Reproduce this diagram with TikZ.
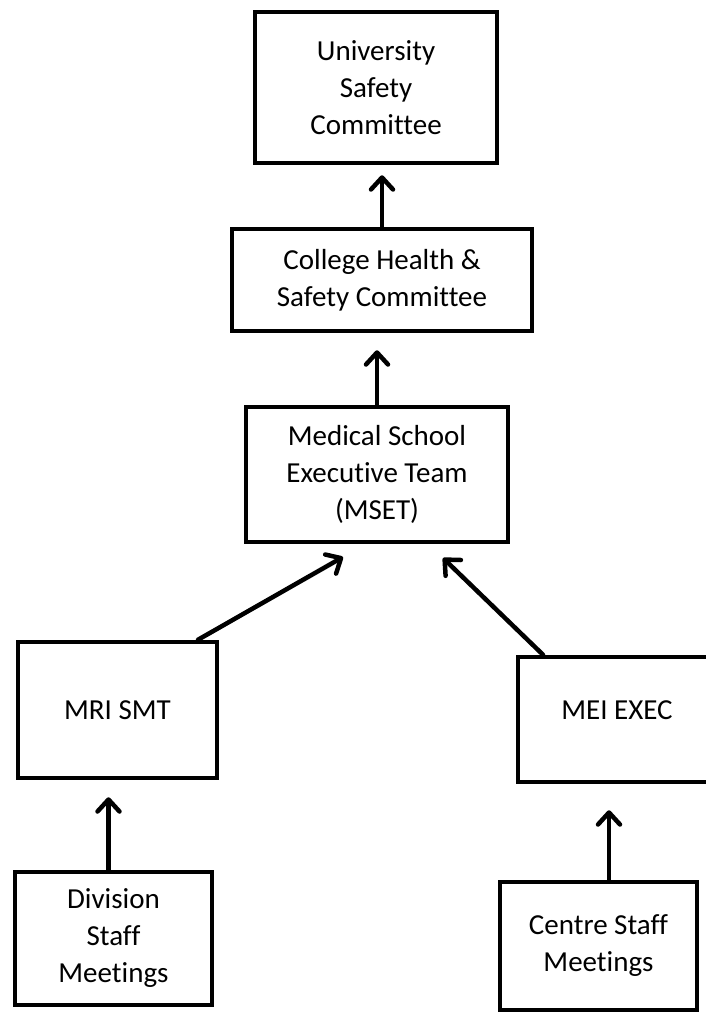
\documentclass[tikz,border=0pt]{standalone}
\usepackage{fontspec}
\setmainfont{Carlito}[Ligatures=NoCommon]
\usetikzlibrary{arrows.meta}
\begin{document}
\begin{tikzpicture}[x=1pt,y=-1pt,
  box/.style={draw=black,line width=4.5pt,fill=white,align=center,
    font=\fontsize{29}{37}\selectfont,inner sep=0pt},
  arr/.style={line width=4.5pt,line cap=round,
    -{Straight Barb[length=12pt,width=22pt,line width=4.5pt,round]}}]
\useasboundingbox (0,0) rectangle (705,1014);
\fill[white] (0,0) rectangle (705,1014);

\node[box,minimum width=242pt,minimum height=151pt] (univ) at (376,87.5)
  {University\\Safety\\Committee};
\node[box,minimum width=300pt,minimum height=102pt] (coll) at (382,280)
  {College Health \&\\Safety Committee};
\node[box,minimum width=262pt,minimum height=135pt] (mset) at (377,474.5)
  {Medical School\\Executive Team\\(MSET)};
\node[box,minimum width=199pt,minimum height=136pt] (mri) at (117.5,710)
  {MRI SMT};
\node[box,minimum width=198pt,minimum height=125pt,text depth=18pt] (mei) at (617,719.5)
  {MEI EXEC};
\node[box,minimum width=197pt,minimum height=133pt] (div) at (113.5,938.5)
  {Division\\Staff\\Meetings};
\node[box,minimum width=197pt,minimum height=128pt] (cent) at (598.5,946)
  {Centre Staff\\Meetings};

\coordinate (t1) at (343,557);
\coordinate (t2) at (443,558);

\draw[arr,shorten >=10pt] (coll.north) -- (coll.north |- univ.south);
\draw[arr,shorten >=17pt] (mset.north) -- (mset.north |- coll.south);
\draw[arr] ([xshift=80.5pt]mri.north) -- (t1);
\draw[arr] ([xshift=-74pt]mei.north) -- (t2);
\draw[arr,shorten >=17pt] ([xshift=-5pt]div.north) -- ([xshift=-5pt]div.north |- mri.south);
\draw[arr,shorten >=26pt] ([xshift=10.5pt]cent.north) -- ([xshift=10.5pt]cent.north |- mei.south);
\end{tikzpicture}
\end{document}
